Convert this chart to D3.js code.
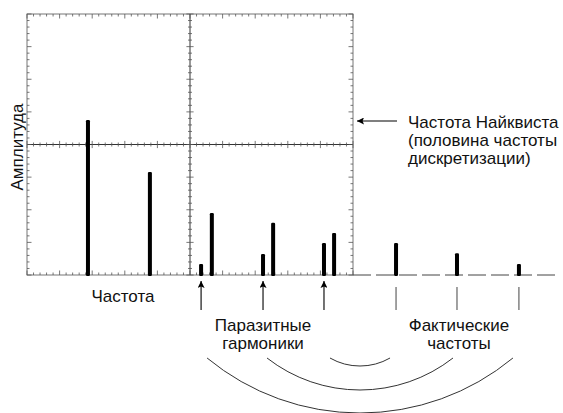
<!doctype html>
<html lang="ru">
<head>
	<meta charset="UTF-8">
	<title>Alias</title>
	<script src="https://d3js.org/d3.v7.min.js"></script>
	<style>
		body {
			margin: 0;
			padding: 0;
			background: #fff;
			font-family: "Liberation Sans", Arial, Helvetica, sans-serif;
		}
		text {
			fill: #111;
			font-size: 17px;
		}
	</style>
</head>
<body>
	<div id="chart"></div>

	<script>
		// Data (x in grid divisions, amplitude in grid divisions)
		const signalFreq = [1.87, 3.77];
		const signalAmp = [4.75, 3.16];

		const aliasFreq = [5.34, 7.24, 9.11];
		const aliasAmp = [0.34, 0.64, 0.98];

		const extraFreq = [5.67, 7.55, 9.42];
		const extraAmp = [1.9, 1.6, 1.29];

		const actualFreq = [11.32, 13.19, 15.09];
		const actualAmp = [0.98, 0.67, 0.34];

		// pairs alias index -> actual index, for the arcs
		const arcPairs = [[2, 0], [1, 1], [0, 2]];

		const nyquistLines = ['Частота Найквиста', '(половина частоты', 'дискретизации)'];
		const aliasLines = ['Паразитные', 'гармоники'];
		const actualLines = ['Фактические', 'частоты'];

		const width = 563;
		const height = 413;

		// Grid: 10 x 8 major divisions
		const x = d3.scaleLinear().domain([0, 10]).range([27, 353]);
		const y = d3.scaleLinear().domain([0, 8]).range([275, 14]);

		const svg = d3.select('#chart')
			.append('svg')
			.attr('width', width)
			.attr('height', height);

		// Minor tick positions (5 per major)
		const xTicks = d3.range(0, 10.001, 0.2);
		const yTicks = d3.range(0, 8.001, 0.2);
		const isMajor = (v) => Math.abs(v - Math.round(v)) < 0.01;

		const grid = svg.append('g');

		// Outer box
		grid.append('rect')
			.attr('x', x(0))
			.attr('y', y(8))
			.attr('width', x(10) - x(0))
			.attr('height', y(0) - y(8))
			.attr('fill', 'none')
			.attr('stroke', '#777')
			.attr('stroke-width', 1);

		// Center cross
		grid.append('line')
			.attr('x1', x(5)).attr('x2', x(5))
			.attr('y1', y(8)).attr('y2', y(0))
			.attr('stroke', '#333');
		grid.append('line')
			.attr('x1', x(0)).attr('x2', x(10))
			.attr('y1', y(4)).attr('y2', y(4))
			.attr('stroke', '#333');

		// Horizontal edge ticks (top, bottom, middle)
		const hTick = (yPos, up, down) => {
			grid.selectAll(null)
				.data(xTicks)
				.enter().append('line')
				.attr('x1', (d) => x(d)).attr('x2', (d) => x(d))
				.attr('y1', (d) => yPos - (isMajor(d) ? up * 1.8 : up))
				.attr('y2', (d) => yPos + (isMajor(d) ? down * 1.8 : down))
				.attr('stroke', '#555')
				.attr('stroke-width', 0.8);
		};
		hTick(y(8), 0, 2.5);
		hTick(y(0), 2.5, 0);
		hTick(y(4), 2, 2);

		// Vertical edge ticks (left, right, center)
		const vTick = (xPos, left, right) => {
			grid.selectAll(null)
				.data(yTicks)
				.enter().append('line')
				.attr('y1', (d) => y(d)).attr('y2', (d) => y(d))
				.attr('x1', (d) => xPos - (isMajor(d) ? left * 1.8 : left))
				.attr('x2', (d) => xPos + (isMajor(d) ? right * 1.8 : right))
				.attr('stroke', '#555')
				.attr('stroke-width', 0.8);
		};
		vTick(x(0), 0, 2.5);
		vTick(x(10), 2.5, 0);
		vTick(x(5), 2, 2);

		// Dashed baseline beyond Nyquist
		svg.append('line')
			.attr('x1', x(10)).attr('x2', x(16.3))
			.attr('y1', y(0)).attr('y2', y(0))
			.attr('stroke', '#444')
			.attr('stroke-width', 1)
			.attr('stroke-dasharray', '18,5');

		// Bars
		const bars = [];
		signalFreq.forEach((f, i) => bars.push({ f: f, a: signalAmp[i] }));
		aliasFreq.forEach((f, i) => bars.push({ f: f, a: aliasAmp[i] }));
		extraFreq.forEach((f, i) => bars.push({ f: f, a: extraAmp[i] }));
		actualFreq.forEach((f, i) => bars.push({ f: f, a: actualAmp[i] }));

		const barW = 4;
		svg.selectAll('.bar')
			.data(bars)
			.enter().append('rect')
			.attr('class', 'bar')
			.attr('x', (d) => x(d.f) - barW / 2)
			.attr('y', (d) => y(d.a))
			.attr('width', barW)
			.attr('height', (d) => y(0) - y(d.a) + 1)
			.attr('rx', 1.2)
			.attr('fill', '#000');

		// Arrow markers
		const defs = svg.append('defs');
		defs.append('marker')
			.attr('id', 'head')
			.attr('viewBox', '0 0 10 10')
			.attr('refX', 10)
			.attr('refY', 5)
			.attr('markerWidth', 11)
			.attr('markerHeight', 7)
			.attr('markerUnits', 'userSpaceOnUse')
			.attr('orient', 'auto')
			.append('path')
			.attr('d', 'M0,0 L10,5 L0,10 L2,5 Z')
			.attr('fill', '#000');

		// Nyquist arrow
		svg.append('line')
			.attr('x1', 397).attr('x2', 357)
			.attr('y1', 121).attr('y2', 121)
			.attr('stroke', '#000')
			.attr('stroke-width', 1.2)
			.attr('marker-end', 'url(#head)');

		svg.append('text')
			.attr('x', 408)
			.attr('y', 128)
			.selectAll('tspan')
			.data(nyquistLines)
			.enter().append('tspan')
			.attr('x', 408)
			.attr('dy', (d, i) => i === 0 ? 0 : 18)
			.text((d) => d);

		// Arrows under aliases
		svg.selectAll('.alias-arrow')
			.data(aliasFreq)
			.enter().append('line')
			.attr('class', 'alias-arrow')
			.attr('x1', (d) => x(d)).attr('x2', (d) => x(d))
			.attr('y1', 310).attr('y2', 281)
			.attr('stroke', '#000')
			.attr('stroke-width', 1.1)
			.attr('marker-end', 'url(#head)');

		// Ticks under actual frequencies
		svg.selectAll('.actual-tick')
			.data(actualFreq)
			.enter().append('line')
			.attr('class', 'actual-tick')
			.attr('x1', (d) => x(d)).attr('x2', (d) => x(d))
			.attr('y1', 287).attr('y2', 310)
			.attr('stroke', '#444')
			.attr('stroke-width', 1);

		// Labels
		svg.append('text')
			.attr('x', 123)
			.attr('y', 302)
			.attr('text-anchor', 'middle')
			.text('Частота');

		svg.append('text')
			.attr('transform', 'translate(23,147) rotate(-90)')
			.attr('text-anchor', 'middle')
			.text('Амплитуда');

		svg.append('text')
			.attr('x', x(aliasFreq[1]))
			.attr('y', 331)
			.attr('text-anchor', 'middle')
			.selectAll('tspan')
			.data(aliasLines)
			.enter().append('tspan')
			.attr('x', x(aliasFreq[1]))
			.attr('dy', (d, i) => i === 0 ? 0 : 18)
			.text((d) => d);

		svg.append('text')
			.attr('x', x(actualFreq[1]) + 2)
			.attr('y', 331)
			.attr('text-anchor', 'middle')
			.selectAll('tspan')
			.data(actualLines)
			.enter().append('tspan')
			.attr('x', x(actualFreq[1]) + 2)
			.attr('dy', (d, i) => i === 0 ? 0 : 18)
			.text((d) => d);

		// Arcs linking each alias with its actual frequency
		const arcTop = 358;
		const arcDepth = [8, 32, 55];
		const arcInset = [6, 4, 6];
		svg.selectAll('.link')
			.data(arcPairs)
			.enter().append('path')
			.attr('class', 'link')
			.attr('d', (p, i) => {
				const x1 = x(aliasFreq[p[0]]) + arcInset[i];
				const x2 = x(actualFreq[p[1]]) - arcInset[i];
				const half = (x2 - x1) / 2;
				const s = arcDepth[i];
				const r = (half * half + s * s) / (2 * s);
				return 'M' + x1 + ',' + arcTop + ' A' + r + ',' + r + ' 0 0 0 ' + x2 + ',' + arcTop;
			})
			.attr('fill', 'none')
			.attr('stroke', '#333')
			.attr('stroke-width', 1);
	</script>
</body>
</html>
